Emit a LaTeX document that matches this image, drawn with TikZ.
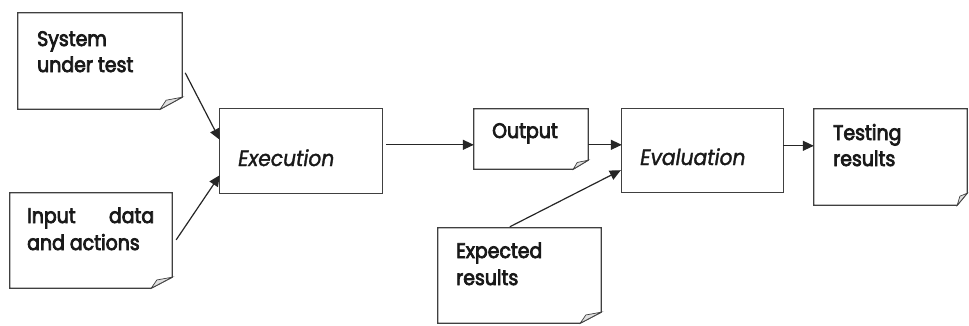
\documentclass[tikz,border=0pt]{standalone}
\usepackage{fontspec}
\setmainfont{Poppins}[FakeStretch=0.9, FakeBold=3.5]
\newfontfamily\itfont{Poppins}[FakeStretch=0.92, FakeBold=1.5]
\usetikzlibrary{arrows.meta,calc,fit}

% document outline with a dog-eared bottom-right corner
\newcommand\docshape[3]{%
  \draw[boxline] (#1.north west) -- (#1.north east) -- ([yshift=#3pt]#1.south east)
    -- ([xshift=-#2pt]#1.south east) -- (#1.south west) -- cycle;
  \draw[fold] ([yshift=#3pt]#1.south east)
    -- ([xshift=-0.73*#2pt, yshift=0.75*#3pt]#1.south east)
    -- ([xshift=-#2pt]#1.south east) -- cycle;
}
\newcommand\plainbox[1]{%
  \draw[boxline] (#1.north west) rectangle (#1.south east);
}

\begin{document}
\begin{tikzpicture}[x=1pt,y=-1pt,
  boxline/.style={draw=black!75, line width=1.2pt, line join=miter},
  fold/.style={draw=black!75, line width=0.7pt, fill=black!12},
  conn/.style={draw=black!85, line width=1.2pt, -{Triangle[length=11pt,width=10pt]}},
  doctext/.style={anchor=base west, inner sep=0pt, font=\fontsize{21}{24}\selectfont, text=black!90},
  ittext/.style={anchor=base west, inner sep=0pt, font=\itfont\itshape\fontsize{22}{26}\selectfont, text=black!90},
  area/.style={inner sep=0pt, draw=none}]
\useasboundingbox (0,0) rectangle (969,325);

% box areas
\node[area, fit={(18,13) (182,109)}]   (sys)  {};
\node[area, fit={(10,193) (172,288)}]  (inp)  {};
\node[area, fit={(220,109) (382,193)}] (exe)  {};
\node[area, fit={(474,109) (588,169)}] (out)  {};
\node[area, fit={(622,109) (783,192)}] (eva)  {};
\node[area, fit={(814,109) (967,205)}] (tst)  {};
\node[area, fit={(438,228) (601,323)}] (expc) {};

% outlines
\docshape{sys}{22}{12}
\docshape{inp}{21}{11}
\plainbox{exe}
\docshape{out}{15}{9}
\plainbox{eva}
\docshape{tst}{10}{12}
\docshape{expc}{21}{11}

% labels
\node[doctext] (sysA) at (37,46) {System};
\node[doctext] (sysB) at (37,72) {under test};
\node[doctext] (inpA) at (27,223) {\makebox[127pt][l]{Input\hfill data}};
\node[doctext] (inpB) at (27,250) {and actions};
\node[ittext]  (exeT) at (238,166) {Execution};
\node[doctext] (outT) at (492,138) {Output};
\node[ittext]  (evaT) at (640,165) {Evaluation};
\node[doctext] (tstA) at (833,140) {Testing};
\node[doctext] (tstB) at (833,166) {results};
\node[doctext] (expA) at (456,258) {Expected};
\node[doctext] (expB) at (456,285) {results};

% connectors
\draw[conn] ($(sys.north east)+(3,60)$) -- ($(exe.north west)+(0,31)$);
\draw[conn] ($(inp.north east)+(4,47)$) -- ($(exe.south west)+(0,-18)$);
\draw[conn] ($(exe.north east)+(4,36)$) -- ($(out.north west)+(0,36)$);
\draw[conn] ($(out.north east)+(0,36)$) -- ($(eva.north west)+(0,36)$);
\draw[conn] ($(eva.north east)+(0,37)$) -- ($(tst.north west)+(0,37)$);
\draw[conn] ($(expc.north west)+(72,-1)$) -- ($(eva.south west)+(-1,-22)$);
\end{tikzpicture}
\end{document}
